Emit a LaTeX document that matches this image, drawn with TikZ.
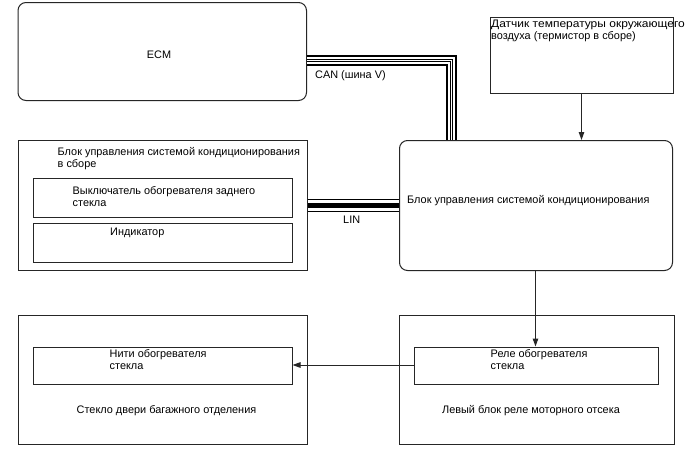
\documentclass[tikz,border=0pt]{standalone}
\usepackage{fontspec}
\setmainfont{Liberation Sans}
\usetikzlibrary{arrows.meta}
\begin{document}
\begin{tikzpicture}[x=1pt,y=-1pt,
  box/.style={draw=black!85, line width=1pt, rectangle, inner sep=0pt, anchor=north west},
  rbox/.style={box, rounded corners=8pt},
  txt/.style={inner sep=0pt, font=\fontsize{10.9}{12.3}\selectfont, align=left},
  arr/.style={draw=black!85, line width=1pt, -{Triangle[length=8pt,width=5.5pt]}},
]
\useasboundingbox (0,0) rectangle (688,463);
\fill[white] (0,0) rectangle (688,463);
% boxes
\node[rbox, minimum width=288.5pt, minimum height=98pt] (ecm) at (17.5,2) {};
\node[box, minimum width=183pt, minimum height=76pt] (sensor) at (490,16.5) {};
\node[rbox, minimum width=273pt, minimum height=130pt] (ac) at (399,140) {};
\node[box, minimum width=289pt, minimum height=130pt] (panel) at (17.5,140) {};
\node[box, minimum width=259pt, minimum height=38.5pt] (sw) at (32.5,178) {};
\node[box, minimum width=259pt, minimum height=38.5pt] (ind) at (32.5,223) {};
\node[box, minimum width=289pt, minimum height=129pt] (glass) at (17.5,315) {};
\node[box, minimum width=259pt, minimum height=37.5pt] (fil) at (32.5,346.5) {};
\node[box, minimum width=275pt, minimum height=129pt] (relaybox) at (398.5,315) {};
\node[box, minimum width=244pt, minimum height=37.5pt] (relay) at (414,346.5) {};
% texts
\node[txt] (tecm) at (159,55) {ECM};
\node[txt, anchor=west] (tcan) at (315,76) {CAN (шина V)};
\node[txt, anchor=north west] (tsens) at (491,20) {\scalebox{1.1}[1]{Датчик температуры окружающего}\\воздуха (термистор в сборе)};
\node[txt, anchor=west] (tac) at (407,200.5) {Блок управления системой кондиционирования};
\node[txt, anchor=west] (tlin) at (343,219.5) {LIN};
\node[txt, anchor=north west] (tpanel) at (57.5,147) {Блок управления системой кондиционирования\\в сборе};
\node[txt, anchor=north west] (tsw) at (72.5,186) {Выключатель обогревателя заднего\\стекла};
\node[txt, anchor=north west] (tind) at (110,227.5) {Индикатор};
\node[txt, anchor=north west] (tfil) at (109.5,349) {Нити обогревателя\\стекла};
\node[txt] (tglass) at (166.5,410.5) {Стекло двери багажного отделения};
\node[txt, anchor=north west] (trelay) at (490.5,349) {Реле обогревателя\\стекла};
\node[txt] (trbox) at (531,410.5) {Левый блок реле моторного отсека};
% CAN cable
\foreach \w/\c in {11pt/black, 7pt/white, 3pt/black, 1pt/white}
  \draw[line width=\w, draw=\c] (ecm.east |- 0,60) -- (451.5,60) -- (ac.north -| 451.5,0);
% LIN cable
\foreach \w/\c in {13pt/black, 11pt/white, 5pt/black}
  \draw[line width=\w, draw=\c] (panel.east |- 0,205) -- (ac.west |- 0,205);
% arrows
\draw[arr] (sensor.south -| 581.5,0) -- (ac.north -| 581.5,0);
\draw[arr] (ac.south -| 535.5,0) -- (relay.north -| 535.5,0);
\draw[arr] (relay.west |- 0,365) -- (fil.east |- 0,365);
\end{tikzpicture}
\end{document}
